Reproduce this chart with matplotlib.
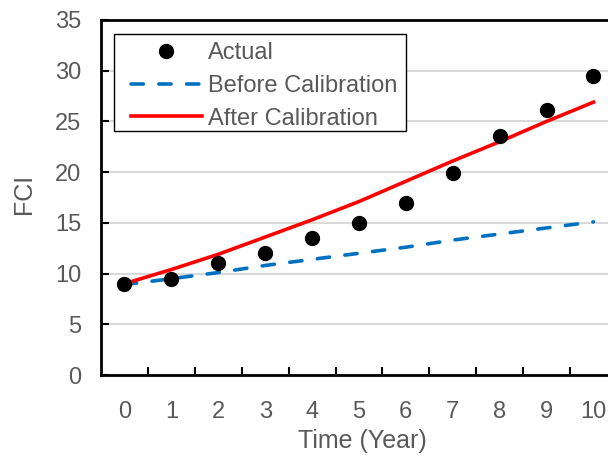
import matplotlib
matplotlib.use("Agg")
import matplotlib.pyplot as plt
from matplotlib.patches import Rectangle
from matplotlib.ticker import FixedLocator, MultipleLocator

plt.rcParams['font.family'] = ['Liberation Sans', 'DejaVu Sans']

# Data
years = [0, 1, 2, 3, 4, 5, 6, 7, 8, 9, 10]
actual = [9.0, 9.5, 11.0, 12.0, 13.5, 15.0, 17.0, 19.9, 23.6, 26.1, 29.5]
before_cal = [8.9, 9.5, 10.1, 10.8, 11.4, 12.0, 12.6, 13.3, 13.9, 14.5, 15.1]
after_cal = [9.0, 10.4, 11.9, 13.6, 15.3, 17.1, 19.1, 21.1, 23.0, 25.0, 26.9]
x_labels = [str(y) for y in years]

text_gray = '#595959'
W, H = 608, 457
fig = plt.figure(figsize=(W / 100, H / 100), dpi=100)
ax = fig.add_axes([101 / W, 1 - 375 / H, 1 - 101 / W, (375 - 20) / H])

ax.plot(years, before_cal, color='#0070C0', lw=2.6, linestyle=(0, (3.4, 4.3)),
        dash_capstyle='round', label='Before Calibration', zorder=3)
ax.plot(years, after_cal, color='#FF0000', lw=2.6, label='After Calibration', zorder=4)
ax.plot(years, actual, 'o', color='black', ms=10, label='Actual', zorder=5)

ax.set_xlim(-0.5, 10.31)
ax.set_ylim(0, 35)

# category axis: labels at integers, tick marks between categories
ax.xaxis.set_major_locator(FixedLocator(years))
ax.set_xticklabels(x_labels)
ax.xaxis.set_minor_locator(FixedLocator([y + 0.5 for y in years[:-1]]))
ax.tick_params(axis='x', which='major', length=0, pad=19, labelsize=17, labelcolor=text_gray)
ax.tick_params(axis='x', which='minor', direction='in', length=6, width=1.5, color='black')

ax.yaxis.set_major_locator(MultipleLocator(5))
ax.tick_params(axis='y', which='major', direction='in', length=6, width=1.5,
               pad=14, labelsize=17, labelcolor=text_gray)

ax.grid(axis='y', color='#d9d9d9', lw=1.5, zorder=0)
ax.set_axisbelow(True)

for side in ('left', 'bottom', 'top'):
    ax.spines[side].set_linewidth(2)
    ax.spines[side].set_color('black')
ax.spines['right'].set_visible(False)

ax.set_xlabel('Time (Year)', fontsize=18, color=text_gray)
ax.xaxis.set_label_coords(362 / W, 1 - 441 / H, transform=fig.transFigure)
ax.set_ylabel('FCI', fontsize=18, color=text_gray)
ax.yaxis.set_label_coords(24 / W, 1 - 194 / H, transform=fig.transFigure)
ax.yaxis.label.set_va('center')
ax.xaxis.label.set_va('center')

handles, labels = ax.get_legend_handles_labels()
order = [2, 0, 1]
leg = ax.legend([handles[i] for i in order], [labels[i] for i in order],
                loc='upper left', bbox_to_anchor=(131 / W, 1 - 42 / H),
                bbox_transform=fig.transFigure,
                borderaxespad=0, fontsize=17, frameon=False,
                handlelength=3.0, handletextpad=0.27,
                labelspacing=0.46, borderpad=0, labelcolor=text_gray)
leg.set_zorder(6)

# legend frame
frame = Rectangle((113.5 / W, 1 - 131 / H), (406 - 113.5) / W, (131 - 34) / H,
                  transform=fig.transFigure, facecolor='white', edgecolor='black',
                  lw=1.0, zorder=5.5)
ax.add_artist(frame)
frame.set_clip_on(False)

fig.savefig('out.png', dpi=100)
